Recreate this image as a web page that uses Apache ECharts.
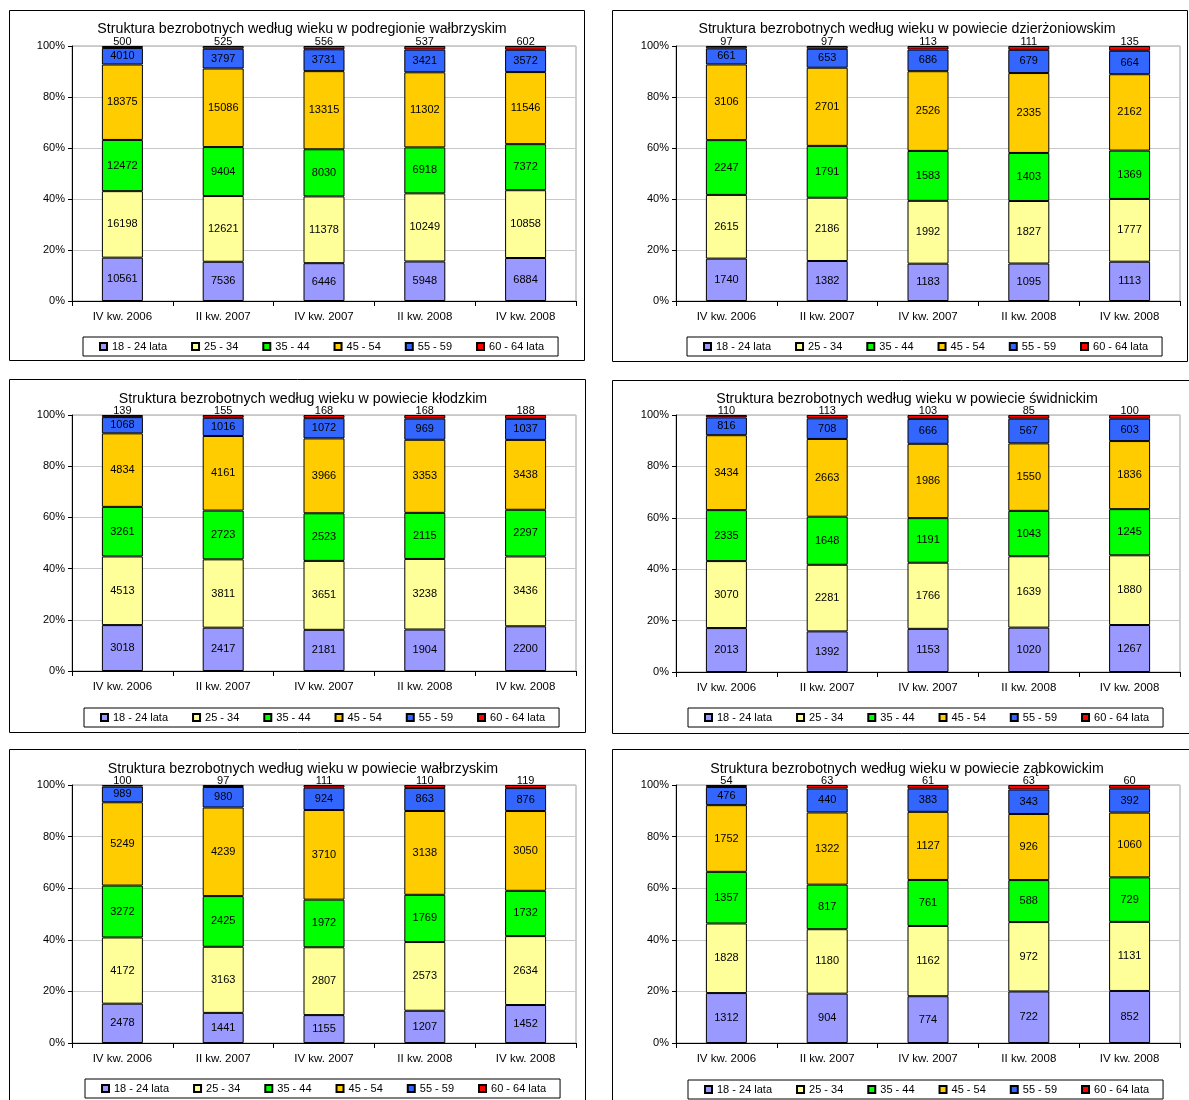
<!DOCTYPE html>
<html>
<head>
<meta charset="utf-8">
<script src="https://cdn.jsdelivr.net/npm/echarts@6/dist/echarts.min.js"></script>
<style>
  html, body { margin: 0; background: #fff; }
  #chart { width: 1189px; height: 1100px; }
</style>
</head>
<body>
<div id="chart"></div>
<script>
const quarters = ["IV kw. 2006", "II kw. 2007", "IV kw. 2007", "II kw. 2008", "IV kw. 2008"];
const ageGroups = ["18 - 24 lata", "25 - 34", "35 - 44", "45 - 54", "55 - 59", "60 - 64 lata"];
const ageColors = ["#9999ff", "#ffff99", "#00ff00", "#ffcc00", "#3366ff", "#ff0000"];
const yTicks = [0, 20, 40, 60, 80, 100];

const titles = [
  "Struktura bezrobotnych według wieku w podregionie wałbrzyskim",
  "Struktura bezrobotnych według wieku w powiecie dzierżoniowskim",
  "Struktura bezrobotnych według wieku w powiecie kłodzkim",
  "Struktura bezrobotnych według wieku w powiecie świdnickim",
  "Struktura bezrobotnych według wieku w powiecie wałbrzyskim",
  "Struktura bezrobotnych według wieku w powiecie ząbkowickim"
];

// one row per age group, one column per quarter
const podregionWalbrzyski = [
  [10561, 7536, 6446, 5948, 6884],
  [16198, 12621, 11378, 10249, 10858],
  [12472, 9404, 8030, 6918, 7372],
  [18375, 15086, 13315, 11302, 11546],
  [4010, 3797, 3731, 3421, 3572],
  [500, 525, 556, 537, 602]
];
const powiatDzierzoniowski = [
  [1740, 1382, 1183, 1095, 1113],
  [2615, 2186, 1992, 1827, 1777],
  [2247, 1791, 1583, 1403, 1369],
  [3106, 2701, 2526, 2335, 2162],
  [661, 653, 686, 679, 664],
  [97, 97, 113, 111, 135]
];
const powiatKlodzki = [
  [3018, 2417, 2181, 1904, 2200],
  [4513, 3811, 3651, 3238, 3436],
  [3261, 2723, 2523, 2115, 2297],
  [4834, 4161, 3966, 3353, 3438],
  [1068, 1016, 1072, 969, 1037],
  [139, 155, 168, 168, 188]
];
const powiatSwidnicki = [
  [2013, 1392, 1153, 1020, 1267],
  [3070, 2281, 1766, 1639, 1880],
  [2335, 1648, 1191, 1043, 1245],
  [3434, 2663, 1986, 1550, 1836],
  [816, 708, 666, 567, 603],
  [110, 113, 103, 85, 100]
];
const powiatWalbrzyski = [
  [2478, 1441, 1155, 1207, 1452],
  [4172, 3163, 2807, 2573, 2634],
  [3272, 2425, 1972, 1769, 1732],
  [5249, 4239, 3710, 3138, 3050],
  [989, 980, 924, 863, 876],
  [100, 97, 111, 110, 119]
];
const powiatZabkowicki = [
  [1312, 904, 774, 722, 852],
  [1828, 1180, 1162, 972, 1131],
  [1357, 817, 761, 588, 729],
  [1752, 1322, 1127, 926, 1060],
  [476, 440, 383, 343, 392],
  [54, 63, 61, 63, 60]
];
const panelData = [podregionWalbrzyski, powiatDzierzoniowski, powiatKlodzki,
                   powiatSwidnicki, powiatWalbrzyski, powiatZabkowicki];

// page layout in pixels: frame box, plot area, title centre, legend corner
const panels = [
  { box: [9, 10, 584, 360],     plot: [72, 46, 576, 301],     titleX: 302, titleY: 29,  legend: [83, 337] },
  { box: [612, 10, 1187, 361],  plot: [676, 46, 1180, 301],   titleX: 907, titleY: 29,  legend: [687, 337] },
  { box: [9, 379, 585, 732],    plot: [72, 415, 576, 671],    titleX: 303, titleY: 399, legend: [84, 708] },
  { box: [612, 380, 1195, 733], plot: [676, 415, 1180, 672],  titleX: 907, titleY: 399, legend: [688, 708] },
  { box: [9, 749, 585, 1110],   plot: [72, 785, 576, 1043],   titleX: 303, titleY: 769, legend: [85, 1079] },
  { box: [612, 749, 1195, 1110],plot: [676, 785, 1180, 1043], titleX: 907, titleY: 769, legend: [688, 1080] }
];

const FONT = "'Liberation Sans', Arial, sans-serif";

const option = {
  animation: false,
  backgroundColor: "#fff",
  title: [], legend: [], grid: [], xAxis: [], yAxis: [], series: [], graphic: []
};

panels.forEach((p, i) => {
  const counts = panelData[i];
  const totals = quarters.map((q, j) => counts.reduce((s, row) => s + row[j], 0));

  option.graphic.push({
    type: "rect", silent: true,
    shape: { x: p.box[0] + 0.5, y: p.box[1] + 0.5, width: p.box[2] - p.box[0], height: p.box[3] - p.box[1] },
    style: { fill: "none", stroke: "#000", lineWidth: 1 }
  });

  option.title.push({
    text: titles[i],
    left: p.titleX, top: p.titleY - 7, textAlign: "center", padding: 0,
    textStyle: { fontFamily: FONT, fontSize: 14.2, fontWeight: "normal", color: "#000" }
  });

  option.legend.push({
    data: ageGroups,
    left: p.legend[0], top: p.legend[1],
    padding: [4, 14, 4, 16],
    itemGap: 24, itemWidth: 7, itemHeight: 7,
    icon: "rect",
    borderColor: "#000", borderWidth: 1,
    selectedMode: false,
    textStyle: { fontFamily: FONT, fontSize: 11, color: "#000" }
  });

  option.grid.push({
    left: p.plot[0], top: p.plot[1],
    width: p.plot[2] - p.plot[0], height: p.plot[3] - p.plot[1],
    show: true, borderColor: "#a0a0a0", borderWidth: 1,
    outerBoundsMode: "none"
  });

  option.xAxis.push({
    type: "category", gridIndex: i, data: quarters,
    axisLine: { lineStyle: { color: "#000", width: 1 } },
    axisTick: { show: true, length: 5, lineStyle: { color: "#000" } },
    axisLabel: { margin: 10, fontFamily: FONT, fontSize: 11.5, color: "#000" }
  });

  option.yAxis.push({
    type: "value", gridIndex: i, min: yTicks[0], max: yTicks[yTicks.length - 1], interval: 20,
    axisLine: { show: true, lineStyle: { color: "#000", width: 1 } },
    axisTick: { show: true, length: 4, lineStyle: { color: "#000" } },
    axisLabel: { margin: 7, fontFamily: FONT, fontSize: 11, color: "#000", formatter: "{value}%" },
    splitLine: { show: true, lineStyle: { color: "#c8c8c8", width: 1 } }
  });

  ageGroups.forEach((name, k) => {
    const isTop = k === ageGroups.length - 1;
    option.series.push({
      type: "bar", name,
      xAxisIndex: i, yAxisIndex: i,
      stack: "s" + i,
      barWidth: 41,
      data: counts[k].map((v, j) => ({ value: v / totals[j] * 100, raw: v })),
      itemStyle: { color: ageColors[k], borderColor: "#000", borderWidth: 1 },
      label: {
        show: true,
        position: isTop ? "top" : "inside",
        distance: isTop ? -1 : 5,
        formatter: (prm) => String(prm.data.raw),
        fontFamily: FONT, fontSize: 11, color: "#000"
      },
      emphasis: { disabled: true }
    });
  });
});

const chart = echarts.init(document.getElementById("chart"), null, { renderer: "canvas" });
chart.setOption(option);
</script>
</body>
</html>
